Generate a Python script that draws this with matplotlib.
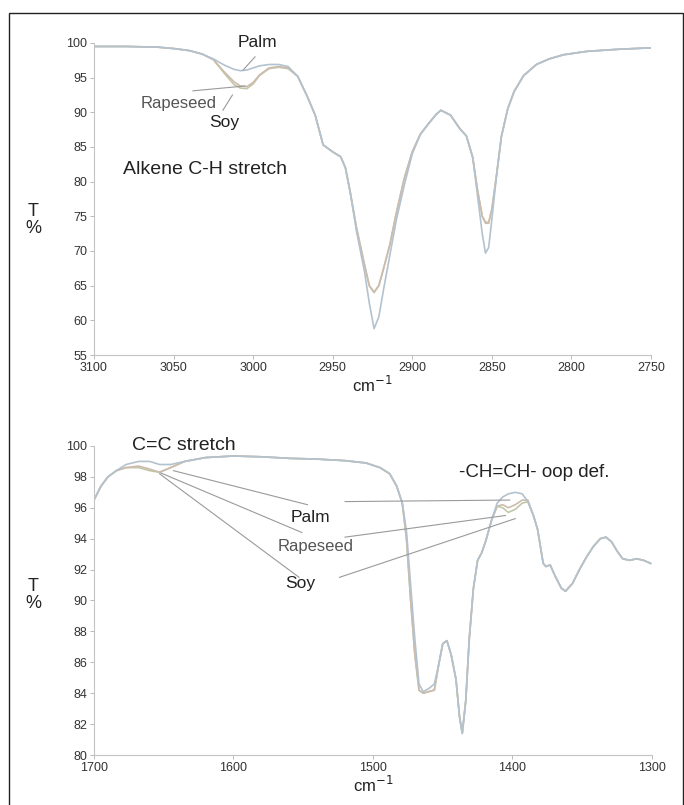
import matplotlib
matplotlib.use('Agg')
from matplotlib import pyplot as plt
from matplotlib.patches import Rectangle

plt.rcParams['font.family'] = ['Liberation Sans', 'DejaVu Sans']

# --- top panel: alkene C-H stretch region ---
wn_top = [3100, 3080, 3060, 3050, 3040, 3032, 3025, 3018, 3012, 3008, 3004, 3000,
          2996, 2990, 2984, 2978, 2972, 2966, 2961, 2956, 2950, 2945, 2942, 2939,
          2935, 2930, 2927, 2924, 2921, 2918, 2914, 2910, 2905, 2900, 2895, 2890,
          2885, 2882, 2876, 2870, 2866, 2862, 2859, 2856, 2854, 2852, 2850, 2847,
          2844, 2840, 2836, 2830, 2822, 2814, 2805, 2790, 2770, 2750]
palm_top = [99.5, 99.5, 99.4, 99.2, 98.9, 98.4, 97.7, 96.8, 96.2, 96.0, 96.1, 96.4,
            96.7, 96.9, 96.9, 96.6, 95.2, 92.3, 89.6, 85.3, 84.3, 83.6, 82.0, 78.5,
            72.8, 67.0, 62.5, 58.8, 60.5, 64.5, 69.5, 74.5, 79.5, 84.0, 86.8, 88.3,
            89.7, 90.3, 89.6, 87.6, 86.6, 83.5, 78.0, 72.5, 69.7, 70.5, 74.5, 81.0,
            86.5, 90.5, 93.0, 95.3, 96.9, 97.7, 98.3, 98.8, 99.1, 99.3]
rape_top = [99.5, 99.5, 99.4, 99.2, 98.9, 98.4, 97.6, 95.8, 94.4, 93.8, 93.7, 94.3,
            95.4, 96.4, 96.6, 96.4, 95.2, 92.3, 89.6, 85.3, 84.3, 83.6, 82.0, 78.5,
            73.3, 68.0, 65.0, 64.0, 65.0, 67.5, 71.0, 75.5, 80.5, 84.3, 86.8, 88.3,
            89.7, 90.3, 89.6, 87.6, 86.6, 83.5, 78.8, 75.0, 74.0, 74.0, 76.0, 81.0,
            86.5, 90.5, 93.0, 95.3, 96.9, 97.7, 98.3, 98.8, 99.1, 99.3]
soy_top = [99.5, 99.5, 99.4, 99.2, 98.9, 98.4, 97.6, 95.6, 94.0, 93.5, 93.4, 94.1,
           95.3, 96.3, 96.5, 96.3, 95.2, 92.3, 89.6, 85.3, 84.3, 83.6, 82.0, 78.5,
           73.3, 68.0, 65.0, 64.1, 65.0, 67.5, 71.0, 75.5, 80.5, 84.3, 86.8, 88.3,
           89.7, 90.3, 89.6, 87.6, 86.6, 83.5, 78.8, 75.0, 74.2, 74.1, 76.0, 81.0,
           86.5, 90.5, 93.0, 95.3, 96.9, 97.7, 98.3, 98.8, 99.1, 99.3]

# --- bottom panel: C=C stretch and -CH=CH- oop def. region ---
wn_bot = [1700, 1695, 1690, 1684, 1677, 1668, 1660, 1653, 1645, 1635, 1620, 1600,
          1580, 1560, 1540, 1520, 1505, 1495, 1488, 1483, 1479, 1476, 1473, 1470,
          1467, 1464, 1460, 1456, 1453, 1450, 1447, 1444, 1440.5, 1438, 1436, 1433.5,
          1431, 1428, 1425, 1422, 1419, 1415, 1411, 1407, 1403, 1398, 1393, 1389,
          1385, 1382, 1378, 1376, 1373, 1369, 1365, 1362, 1357, 1352, 1347, 1342,
          1337, 1333, 1329, 1325, 1321, 1316, 1311, 1306, 1301]
palm_bot = [96.5, 97.4, 98.0, 98.4, 98.8, 99.0, 99.0, 98.8, 98.8, 99.0, 99.25, 99.35,
            99.3, 99.2, 99.15, 99.05, 98.9, 98.6, 98.2, 97.4, 96.3, 94.5, 91.0, 87.5,
            84.6, 84.1, 84.3, 84.6, 85.8, 87.2, 87.4, 86.5, 84.9, 82.5, 81.4, 83.5,
            87.5, 90.8, 92.6, 93.1, 93.9, 95.2, 96.3, 96.7, 96.9, 97.0, 96.9, 96.4,
            95.5, 94.6, 92.4, 92.2, 92.3, 91.5, 90.8, 90.6, 91.1, 92.0, 92.8, 93.5,
            94.0, 94.1, 93.8, 93.2, 92.7, 92.6, 92.7, 92.6, 92.4]
rape_bot = [96.5, 97.4, 98.0, 98.4, 98.6, 98.7, 98.5, 98.3, 98.6, 99.0, 99.25, 99.35,
            99.3, 99.2, 99.15, 99.05, 98.9, 98.6, 98.2, 97.4, 96.3, 94.0, 90.0, 86.5,
            84.2, 84.0, 84.1, 84.2, 85.8, 87.2, 87.4, 86.5, 84.9, 82.5, 81.4, 83.5,
            87.5, 90.8, 92.6, 93.1, 93.9, 95.2, 96.1, 96.2, 96.0, 96.2, 96.5, 96.5,
            95.5, 94.6, 92.4, 92.2, 92.3, 91.5, 90.8, 90.6, 91.1, 92.0, 92.8, 93.5,
            94.0, 94.1, 93.8, 93.2, 92.7, 92.6, 92.7, 92.6, 92.4]
soy_bot = [96.5, 97.4, 98.0, 98.4, 98.6, 98.6, 98.4, 98.3, 98.6, 99.0, 99.25, 99.35,
           99.3, 99.2, 99.15, 99.05, 98.9, 98.6, 98.2, 97.4, 96.3, 94.0, 90.0, 86.5,
           84.2, 84.0, 84.1, 84.2, 85.8, 87.2, 87.4, 86.5, 84.9, 82.5, 81.4, 83.5,
           87.5, 90.8, 92.6, 93.1, 93.9, 95.2, 96.1, 96.0, 95.7, 95.9, 96.3, 96.4,
           95.5, 94.6, 92.4, 92.2, 92.3, 91.5, 90.8, 90.6, 91.1, 92.0, 92.8, 93.5,
           94.0, 94.1, 93.8, 93.2, 92.7, 92.6, 92.7, 92.6, 92.4]

colors = {'Palm': '#b3c2cf', 'Rapeseed': '#cdbcae', 'Soy': '#c2c7a8'}

fig = plt.figure(figsize=(6.84, 8.05), dpi=100)
ax1 = fig.add_axes([0.1374, 0.559, 0.8143, 0.3876])
ax2 = fig.add_axes([0.1374, 0.0621, 0.8158, 0.3839])

for ax, wn, series in [(ax1, wn_top, (palm_top, rape_top, soy_top)),
                       (ax2, wn_bot, (palm_bot, rape_bot, soy_bot))]:
    for name, vals in zip(['Soy', 'Rapeseed', 'Palm'], series[::-1]):
        ax.plot(wn, vals, color=colors[name], lw=1.2)
    for s in ['top', 'right']:
        ax.spines[s].set_visible(False)
    for s in ['left', 'bottom']:
        ax.spines[s].set_color('#c4c4c4')
        ax.spines[s].set_linewidth(0.8)
    ax.tick_params(length=3, width=0.6, color='#b0b0b0', labelsize=9,
                   labelcolor='#333333', pad=2)
    ax.set_xlabel('cm$^{-1}$', fontsize=12, color='#222222', labelpad=1)

ax1.set_xlim(3100, 2750)
ax1.set_ylim(55, 100)
ax1.set_xticks(range(3100, 2740, -50))
ax1.set_yticks(range(55, 101, 5))

ax2.set_xlim(1700, 1300)
ax2.set_ylim(80, 100)
ax2.set_xticks(range(1700, 1290, -100))
ax2.set_yticks(range(80, 101, 2))

# annotations, top panel
line_kw = dict(color='#9a9a9a', lw=0.8)
ax1.plot([2998.8, 3006.3], [98.0, 96.1], **line_kw)
ax1.plot([3037.8, 3005], [93.1, 93.8], **line_kw)
ax1.plot([3019, 3013], [90.3, 92.5], **line_kw)
ax1.text(2997, 100.0, 'Palm', fontsize=12.5, ha='center', va='center', color='#222222')
ax1.text(3047, 91.3, 'Rapeseed', fontsize=12, ha='center', va='center', color='#555555')
ax1.text(3018, 88.6, 'Soy', fontsize=12.5, ha='center', va='center', color='#222222')
ax1.text(3082, 81.7, 'Alkene C-H stretch', fontsize=14, ha='left', va='center', color='#222222')

# annotations, bottom panel
ax2.plot([1643, 1547], [98.4, 96.2], **line_kw)
ax2.plot([1652, 1551], [98.25, 94.4], **line_kw)
ax2.plot([1653, 1553], [98.2, 91.5], **line_kw)
ax2.plot([1520, 1402], [96.4, 96.5], **line_kw)
ax2.plot([1520, 1405], [94.1, 95.5], **line_kw)
ax2.plot([1524, 1398], [91.5, 95.3], **line_kw)
ax2.text(1545, 95.4, 'Palm', fontsize=12.5, ha='center', va='center', color='#222222')
ax2.text(1541, 93.5, 'Rapeseed', fontsize=12, ha='center', va='center', color='#555555')
ax2.text(1552, 91.1, 'Soy', fontsize=12.5, ha='center', va='center', color='#222222')
ax2.text(1673, 100.05, 'C=C stretch', fontsize=14, ha='left', va='center',
         color='#222222', clip_on=False)
ax2.text(1438, 98.3, '-CH=CH- oop def.', fontsize=13.5, ha='left', va='center', color='#222222')

fig.text(33 / 684, 1 - 220 / 805, 'T\n%', fontsize=13, ha='center', va='center',
         linespacing=1.0, color='#222222')
fig.text(33 / 684, 1 - 595 / 805, 'T\n%', fontsize=13, ha='center', va='center',
         linespacing=1.0, color='#222222')

fig.add_artist(Rectangle((9 / 684, -0.01), (683 - 9) / 684, 1.01 - 13 / 805,
                         transform=fig.transFigure, fill=False, lw=1, ec='#222222'))

plt.savefig('out.png', dpi=100)
